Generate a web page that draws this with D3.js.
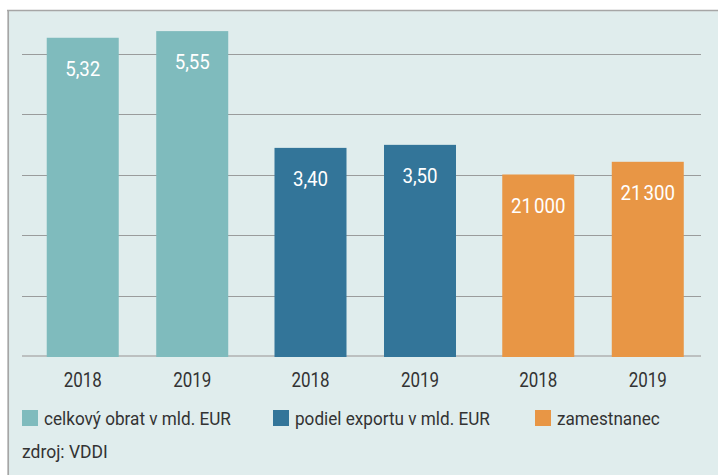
<!DOCTYPE html>
<html><head><meta charset="utf-8">
<script src="https://cdn.jsdelivr.net/npm/d3@7"></script>
<style>html,body{margin:0;padding:0;background:#fff;}svg{display:block;font-family:Roboto,"Noto Sans",sans-serif;}</style>
</head><body>
<svg id="c" width="718" height="475"></svg>
<script>
// ---- data ----
const series = ["celkový obrat v mld. EUR", "podiel exportu v mld. EUR", "zamestnanec"];
const years = ["2018", "2019"];
const obrat = [5.32, 5.55];
const export_ = [3.40, 3.50];
const zamestnanci = [21000, 21300];
// bar tops as read on the chart's unlabeled gridline axis (gridlines at 1..5)
const obratLevel = [5.26, 5.37];
const exportLevel = [3.44, 3.49];
const zamestnanciLevel = [3.00, 3.21];
const gridTicks = [0, 1, 2, 3, 4, 5];
const colors = ["#7fbbbd", "#337599", "#e89645"];
const source = "zdroj: VDDI";

const loc = d3.formatLocale({decimal: ",", thousands: "\u200A", grouping: [3], currency: ["", " €"]});
const fmtDec = loc.format(".2f"), fmtInt = loc.format(",d");

const rows = [
  {name: series[0], values: obrat, levels: obratLevel, fmt: fmtDec},
  {name: series[1], values: export_, levels: exportLevel, fmt: fmtDec},
  {name: series[2], values: zamestnanci, levels: zamestnanciLevel, fmt: fmtInt}
];

const svg = d3.select("#c");
// panel
svg.append("rect").attr("x", 8).attr("y", 10.5).attr("width", 712).attr("height", 470).attr("fill", "#e0eded");
svg.append("line").attr("x1", 8.2).attr("x2", 8.2).attr("y1", 10).attr("y2", 475).attr("stroke", "#a6a6a6").attr("stroke-width", 1.7);
svg.append("line").attr("x1", 7).attr("x2", 718).attr("y1", 10.6).attr("y2", 10.6).attr("stroke", "#a6a6a6").attr("stroke-width", 1.5);

const y = d3.scaleLinear().domain([0, 5]).range([356, 53.5]);
const x0 = d3.scaleBand().domain(series).range([23.6, 706.9]).padding(0);
const bw = x0.bandwidth();
const x1 = d3.scaleBand().domain(years).range([bw / 2 - 90.75, bw / 2 + 90.75]).paddingInner(0.3425).paddingOuter(0);

// gridlines
const gx1 = 22, gx2 = 701;
svg.append("g").selectAll("line").data(gridTicks.filter(d => d > 0)).join("line")
  .attr("x1", gx1).attr("x2", gx2)
  .attr("y1", d => Math.round(y(d)) + 0.5).attr("y2", d => Math.round(y(d)) + 0.5)
  .attr("stroke", "#9a9c9c").attr("stroke-width", 1);
svg.append("line").attr("x1", gx1).attr("x2", gx2).attr("y1", y(0)).attr("y2", y(0))
  .attr("stroke", "#bcc0c0").attr("stroke-width", 2);

function stext(g, x, yy, txt, size, sx, fill, anchor, weight) {
  g.append("text").attr("transform", `translate(${x},${yy}) scale(${sx},1)`)
    .attr("text-anchor", anchor).attr("font-size", size).attr("fill", fill)
    .attr("font-weight", weight || 400).text(txt);
}

const gBars = svg.append("g");
rows.forEach((r, i) => {
  const g = gBars.append("g").attr("transform", `translate(${x0(r.name)},0)`);
  years.forEach((yr, j) => {
    const bx = x1(yr), top = y(r.levels[j]);
    g.append("rect").attr("x", bx).attr("y", top).attr("width", x1.bandwidth())
      .attr("height", y(0) + 1 - top).attr("fill", colors[i]);
    stext(g, bx + x1.bandwidth() / 2, top + 38, r.fmt(r.values[j]), 21, 0.89, "#fff", "middle", 400);
    stext(g, bx + x1.bandwidth() / 2, 387, yr, 19.5, 0.87, "#333", "middle", 400);
  });
});

// legend
const legX = [22, 273, 535];
rows.forEach((r, i) => {
  svg.append("rect").attr("x", legX[i]).attr("y", 410).attr("width", 16).attr("height", 16).attr("fill", colors[i]);
  stext(svg, legX[i] + 22, 425, r.name, 17.5, 0.98, "#333", "start", 400);
});
stext(svg, 22, 457.5, source, 17.5, 1, "#333", "start", 400);
</script>
</body></html>
